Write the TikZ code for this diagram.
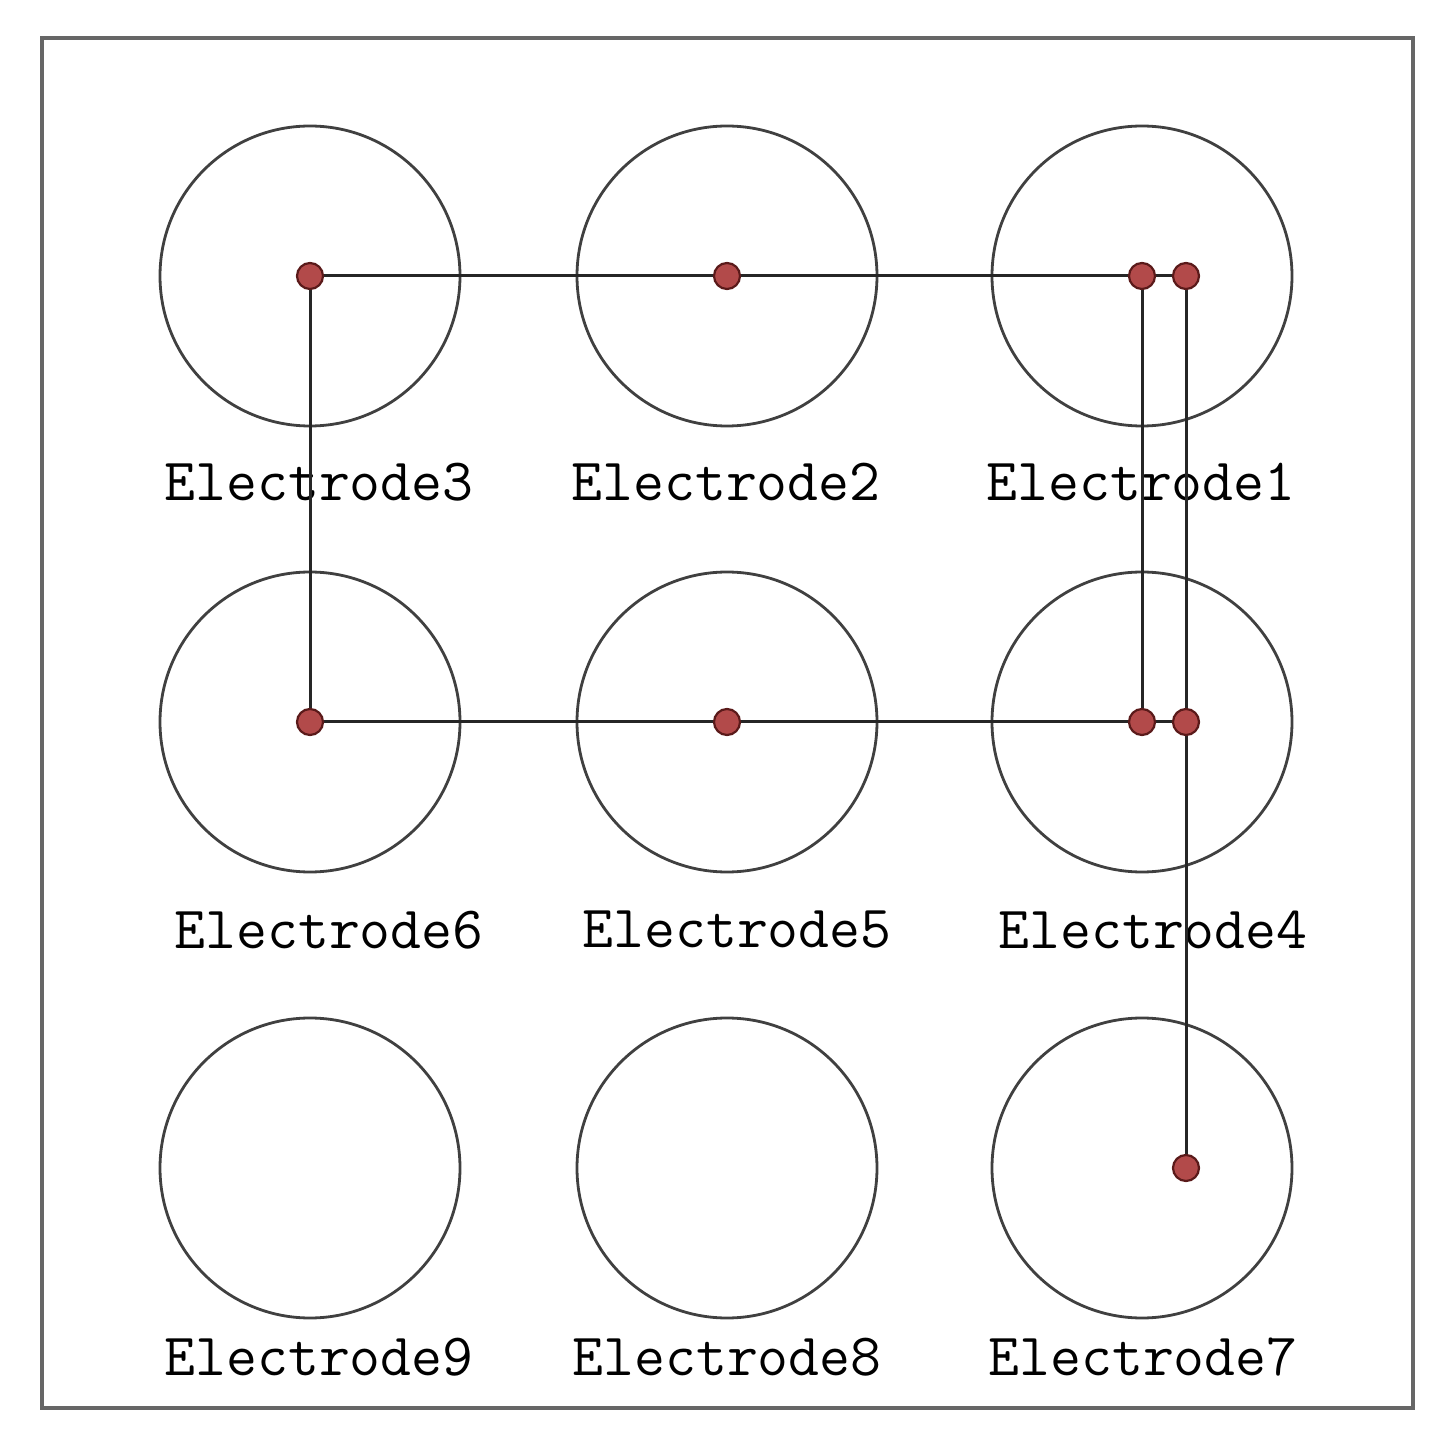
\documentclass[tikz,border=0pt]{standalone}
\definecolor{dotfill}{HTML}{B24A4A}
\definecolor{dotline}{HTML}{5A1A1A}
\begin{document}
\begin{tikzpicture}[x=0.5pt,y=-0.5pt,
  pad/.style={circle,draw=black!75,line width=1.4pt,minimum size=150pt,inner sep=0pt},
  dot/.style={circle,draw=dotline,fill=dotfill,line width=1.1pt,minimum size=13pt,inner sep=0pt},
  wire/.style={draw=black!85,line width=1.5pt},
  lab/.style={font=\ttfamily\fontsize{30}{30}\selectfont,inner sep=0pt}]
\useasboundingbox (0,0) rectangle (1437,1433);
\draw[black!60,line width=1.6pt] (42,38) rectangle (1413,1408);
\foreach \n/\x/\y in {3/310/276,2/727/276,1/1142/276,6/310/722,5/727/722,4/1142/722,9/310/1168,8/727/1168,7/1142/1168}
  \node[pad] (c\n) at (\x,\y) {};
\node[lab] at (319,482) {Electrode3};
\node[lab] at (726,482) {Electrode2};
\node[lab] at (1141,482) {Electrode1};
\node[lab] at (329,930) {Electrode6};
\node[lab] at (737,930) {Electrode5};
\node[lab] at (1153,930) {Electrode4};
\node[lab] at (319,1357) {Electrode9};
\node[lab] at (727,1357) {Electrode8};
\node[lab] at (1143,1357) {Electrode7};
\coordinate (a3) at (310,276); \coordinate (a2) at (727,276);
\coordinate (a1) at (1142,276); \coordinate (b1) at (1186,276);
\coordinate (a6) at (310,722); \coordinate (a5) at (727,722);
\coordinate (a4) at (1142,722); \coordinate (b4) at (1186,722);
\coordinate (b7) at (1186,1168);
\draw[wire] (a3) -- (b1);
\draw[wire] (a6) -- (b4);
\draw[wire] (a3) -- (a6);
\draw[wire] (a1) -- (a4);
\draw[wire] (b1) -- (b7);
\foreach \p in {a3,a2,a1,b1,a6,a5,a4,b4,b7}
  \node[dot] (d\p) at (\p) {};
\end{tikzpicture}
\end{document}
